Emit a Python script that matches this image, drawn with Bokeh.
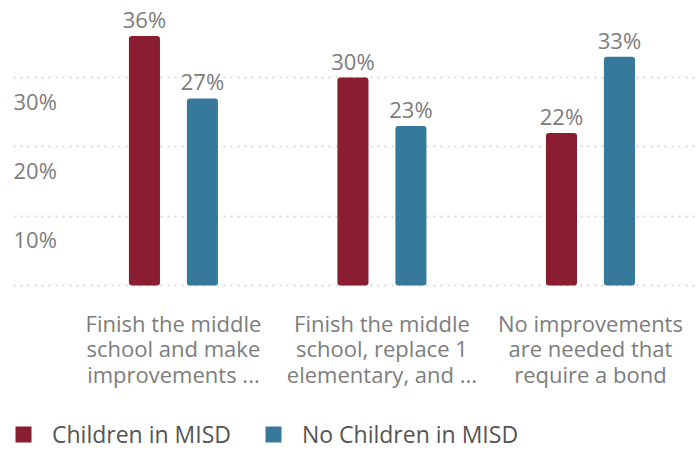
from bokeh.plotting import figure
from bokeh.models import Range1d, FixedTicker, Legend, LegendItem, ColumnDataSource, Grid
from bokeh.core.properties import value
from bokeh.embed import file_html
from bokeh.resources import INLINE

# ---- data ----
categories = [
    "Finish the middle\nschool and make\nimprovements ...",
    "Finish the middle\nschool, replace 1\nelementary, and ...",
    "No improvements\nare needed that\nrequire a bond",
]
series_names = ["Children in MISD", "No Children in MISD"]
children = [36, 30, 22]
no_children = [27, 23, 33]
grid_ticks = [0, 10, 20, 30]
y_label_ticks = [10, 20, 30]
y_label_texts = ["10%", "20%", "30%"]

# ---- style / layout ----
FONT = "Open Sans"
RED = "#8a1d2f"
BLUE = "#36799b"
GRAY = "#7d7d7d"
W, H = 699, 450
LEFT = 13
PX_PER_UNIT_Y = 6.93
DODGE = 0.139
BAR_W = 0.149
X_START, X_END = -0.767, 2.523
Y_END = 285 / PX_PER_UNIT_Y
Y_START = Y_END - H / PX_PER_UNIT_Y

idx = list(range(len(categories)))

p = figure(width=W, height=H, output_backend="svg", toolbar_location=None,
           x_range=Range1d(X_START, X_END), y_range=Range1d(Y_START, Y_END),
           x_axis_location=None, y_axis_location=None)
p.outline_line_color = None
p.min_border_left = LEFT
p.min_border_right = 0
p.min_border_top = 0
p.min_border_bottom = 0
p.background_fill_color = "white"
p.border_fill_color = "white"

p.grid.visible = False
ygrid = Grid(dimension=1, ticker=FixedTicker(ticks=grid_ticks),
             grid_line_color="#d9d9d9", grid_line_width=2, grid_line_dash="2 5")
p.add_layout(ygrid)

src1 = ColumnDataSource(dict(x=[i - DODGE for i in idx], top=children,
                             lab=[f"{v}%" for v in children]))
src2 = ColumnDataSource(dict(x=[i + DODGE for i in idx], top=no_children,
                             lab=[f"{v}%" for v in no_children]))

r1 = p.vbar(x="x", top="top", bottom=0, width=BAR_W, source=src1,
            fill_color=RED, line_color=None, border_radius=3)
r2 = p.vbar(x="x", top="top", bottom=0, width=BAR_W, source=src2,
            fill_color=BLUE, line_color=None, border_radius=3)

for s in (src1, src2):
    p.text(x="x", y="top", text="lab", source=s, text_align="center",
           text_baseline="alphabetic", y_offset=-17,
           text_font=value(FONT), text_font_size="22px", text_color=GRAY)

# y tick labels (drawn below their gridlines as in the reference)
ysrc = ColumnDataSource(dict(x=[X_START] * len(y_label_ticks), y=y_label_ticks,
                             t=y_label_texts))
p.text(x="x", y="y", text="t", source=ysrc, text_align="left",
       text_baseline="middle", y_offset=23,
       text_font=value(FONT), text_font_size="22px", text_color=GRAY)

# category labels under the baseline
csrc = ColumnDataSource(dict(x=idx, y=[0] * len(idx), t=categories))
p.text(x="x", y="y", text="t", source=csrc, text_align="center",
       text_baseline="top", y_offset=22, text_line_height=0.86,
       text_font=value(FONT), text_font_size="22px", text_color=GRAY)

legend = Legend(items=[LegendItem(label=series_names[0], renderers=[r1]),
                       LegendItem(label=series_names[1], renderers=[r2])],
                orientation="horizontal", location="bottom_left")
legend.border_line_color = None
legend.background_fill_alpha = 0
legend.glyph_width = 20
legend.glyph_height = 20
legend.label_standoff = 19
legend.spacing = 32
legend.padding = 1
legend.margin = 0
legend.label_text_font = FONT
legend.label_text_font_size = "23px"
legend.label_text_color = "#555555"
p.add_layout(legend)

open("out.html", "w").write(file_html(p, INLINE))
